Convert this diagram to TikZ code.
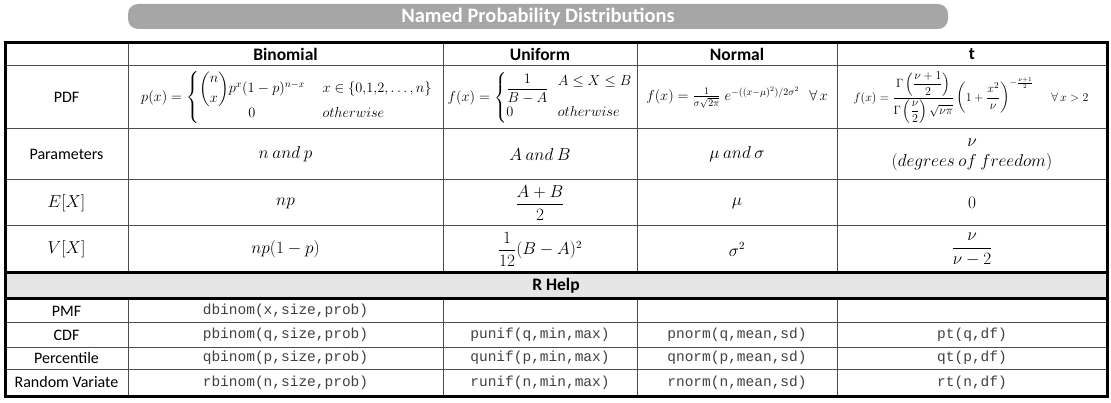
\documentclass[tikz,border=0pt]{standalone}
\usepackage{amsmath,amssymb}
\usepackage{fontspec}
\setmainfont{Carlito}
\setmonofont{Liberation Mono}
\usetikzlibrary{backgrounds}

\begin{document}
\begin{tikzpicture}[x=1pt,y=-1pt,
          every node/.style={font=\fontsize{16}{19}\selectfont,inner sep=1pt},
          hd/.style={font=\fontsize{17.5}{19}\selectfont\bfseries},
          pdfcell/.style={font=\fontsize{#1}{18}\selectfont},
          rcode/.style={font=\fontsize{14.5}{18}\selectfont\ttfamily,text=black!75},
          gridline/.style={draw=black!70,line width=1pt},
          frame/.style={draw=black,line width=3pt}
        ]
        \useasboundingbox (0,0) rectangle (1111,403);
        \node [fill=black!35,rounded corners=10pt,minimum width=820pt,minimum height=25pt,text=white,
               font=\fontsize{20.5}{22}\selectfont\bfseries] (title) at (538,16.5) {Named Probability Distributions};
        % R help band
        \fill [black!10] (5,273) rectangle (1107,299);
        \foreach \y in {66,129,180,226,323,347,369} {
            \draw [gridline] (5,\y) -- (1107,\y);
        }
        \foreach \x in {128,443,637,837} {
            \draw [gridline] (\x,43) -- (\x,273);
            \draw [gridline] (\x,299) -- (\x,396);
        }
        \draw [frame] (5,273) -- (1107,273) (5,299) -- (1107,299);
        \draw [frame] (5,43) rectangle (1107,396);
        % header
        \node [hd] (hbin) at (285.5,54.5) {Binomial};
        \node [hd] (hunif) at (540,54.5) {Uniform};
        \node [hd] (hnorm) at (737,54.5) {Normal};
        \node [hd] (ht) at (972,54.5) {t};
        % PDF row
        \node (pdf) at (66.5,97.5) {PDF};
        \node [pdfcell=14.5] (pdfbin) at (287,97.5) {$p(x)=\left\{\begin{array}{@{}c@{\quad\ }l@{}}
            \dbinom{n}{x}p^x(1-p)^{n-x} & x\in\{0{,}1{,}2,\ldots,n\}\\[-1pt] 0 & otherwise\end{array}\right.$};
        \node [pdfcell=14] (pdfunif) at (540,98) {$f(x)=\left\{\begin{array}{@{}l@{\ \ \ }l@{}}
            \dfrac{1}{B-A} & \raisebox{7pt}{$A\le X\le B$}\\[0pt] 0 & otherwise\end{array}\right.$};
        \node [pdfcell=14.5] (pdfnorm) at (737,97.5) {$f(x)=\tfrac{1}{\sigma\sqrt{2\pi}}\;e^{-((x-\mu)^2)/2\sigma^2}\ \ \ \forall\,x$};
        \node [pdfcell=13] (pdft) at (971,97.5) {$f(x)=\dfrac{\Gamma\left(\dfrac{\nu+1}{2}\right)}{\Gamma\left(\dfrac{\nu}{2}\right)\sqrt{\nu\pi}}
            \left(1+\dfrac{x^2}{\nu}\right)^{-\frac{\nu+1}{2}}\quad\ \forall\,x>2$};
        % Parameters row
        \node (par) at (66.5,154.5) {Parameters};
        \node (parbin) at (285.5,154.5) {$n\ and\ p$};
        \node (parunif) at (540,154.5) {$A\ and\ B$};
        \node (parnorm) at (737,154.5) {$\mu\ and\ \sigma$};
        \node [align=center] (part) at (972,154.5) {$\nu$\\[1pt]$(degrees\ of\ freedom)$};
        % E[X] row
        \node (ex) at (66.5,203) {$E[X]$};
        \node (exbin) at (285.5,203) {$np$};
        \node (exunif) at (540,203) {$\dfrac{A+B}{2}$};
        \node (exnorm) at (737,203) {$\mu$};
        \node (ext) at (972,203) {$0$};
        % V[X] row
        \node (vx) at (66.5,249.5) {$V[X]$};
        \node (vxbin) at (285.5,249.5) {$np(1-p)$};
        \node (vxunif) at (540,249.5) {$\dfrac{1}{12}(B-A)^2$};
        \node (vxnorm) at (737,249.5) {$\sigma^2$};
        \node (vxt) at (972,249.5) {$\dfrac{\nu}{\nu-2}$};
        % R help
        \node [hd] (rhelp) at (556,286) {R Help};
        \node (pmf) at (66.5,311) {PMF};
        \node [rcode] (pmfbin) at (285.5,311) {dbinom(x,size,prob)};
        \foreach \n/\y/\lbl/\bin/\unif/\norm/\tdist in {
            cdf/335/CDF/{pbinom(q,size,prob)}/{punif(q,min,max)}/{pnorm(q,mean,sd)}/{pt(q,df)},
            pct/358/Percentile/{qbinom(p,size,prob)}/{qunif(p,min,max)}/{qnorm(p,mean,sd)}/{qt(p,df)},
            rv/382.5/Random Variate/{rbinom(n,size,prob)}/{runif(n,min,max)}/{rnorm(n,mean,sd)}/{rt(n,df)}} {
            \node (\n) at (66.5,\y) {\lbl};
            \node [rcode] (\n bin) at (285.5,\y) {\bin};
            \node [rcode] (\n unif) at (540,\y) {\unif};
            \node [rcode] (\n norm) at (737,\y) {\norm};
            \node [rcode] (\n t) at (972,\y) {\tdist};
        }
    \end{tikzpicture}
\end{document}
